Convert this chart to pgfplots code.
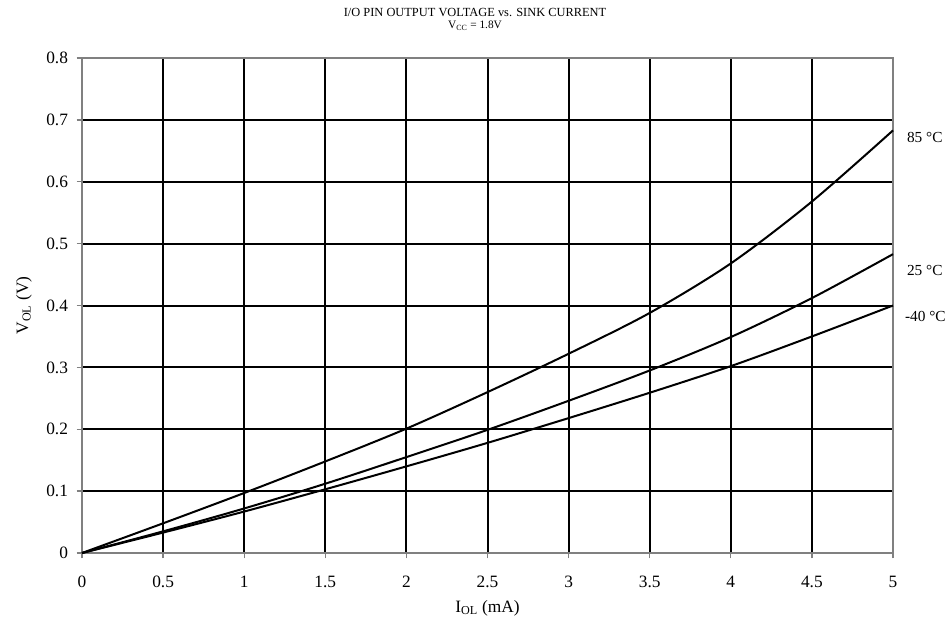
\documentclass[border=0pt]{standalone}
\usepackage{pgfplots}
\pgfplotsset{compat=1.18}
\usepackage{fontspec}
\setmainfont{Liberation Serif}
\begin{document}
\begin{tikzpicture}[x=0.75pt,y=0.75pt]
\useasboundingbox (-82,-76) rectangle (868,553);
\begin{axis}[
  at={(0,0)}, anchor=south west,
  scale only axis, width=608.25pt, height=371.25pt,
  xmin=0, xmax=5, ymin=0, ymax=0.8,
  xtick={0,0.5,...,5}, ytick={0,0.1,...,0.8},
  xticklabels={0,0.5,1,1.5,2,2.5,3,3.5,4,4.5,5},
  yticklabels={0,0.1,0.2,0.3,0.4,0.5,0.6,0.7,0.8},
  grid=major,
  major grid style={black, line width=1.5pt},
  axis line style={gray, line width=1.3pt},
  tick style={gray, line width=1pt},
  tick align=outside, tick pos=left,
  major tick length=4pt,
  tick label style={font=\fontsize{13}{15}\selectfont},
  /pgf/number format/assume math mode=true,
  xticklabel style={yshift=-10pt},
  yticklabel style={xshift=-3pt},
  xlabel={I\textsubscript{OL} (mA)},
  ylabel={V\textsubscript{OL} (V)},
  label style={font=\fontsize{13}{15}\selectfont},
  xlabel style={yshift=-2pt},
  ylabel style={yshift=4pt},
  clip=false,
]
\addplot[black, line width=1.5pt, smooth] coordinates {
(0,0) (0.5,0.048) (1,0.097) (1.5,0.148) (2,0.201) (2.5,0.260) (3,0.322) (3.5,0.388) (4,0.468) (4.5,0.568) (5,0.683)};
\addplot[black, line width=1.5pt, smooth] coordinates {
(0,0) (0.5,0.035) (1,0.072) (1.5,0.112) (2,0.155) (2.5,0.199) (3,0.246) (3.5,0.295) (4,0.349) (4.5,0.412) (5,0.483)};
\addplot[black, line width=1.5pt, smooth] coordinates {
(0,0) (0.5,0.033) (1,0.067) (1.5,0.103) (2,0.140) (2.5,0.178) (3,0.218) (3.5,0.259) (4,0.302) (4.5,0.350) (5,0.400)};
\node[anchor=west, font=\fontsize{11.5}{13}\selectfont] at (axis cs:5,0.671) [xshift=7pt] {85 °C};
\node[anchor=west, font=\fontsize{11.5}{13}\selectfont] at (axis cs:5,0.457) [xshift=7pt] {25 °C};
\node[anchor=west, font=\fontsize{11.5}{13}\selectfont] at (axis cs:5,0.383) [xshift=5.5pt] {-40 °C};
\end{axis}
\node[font=\fontsize{9.3}{11}\selectfont] at (393,541) {I/O PIN OUTPUT VOLTAGE vs. SINK CURRENT};
\node[font=\fontsize{8.5}{10}\selectfont] at (393,527) {V\textsubscript{CC} = 1.8V};
\end{tikzpicture}
\end{document}
